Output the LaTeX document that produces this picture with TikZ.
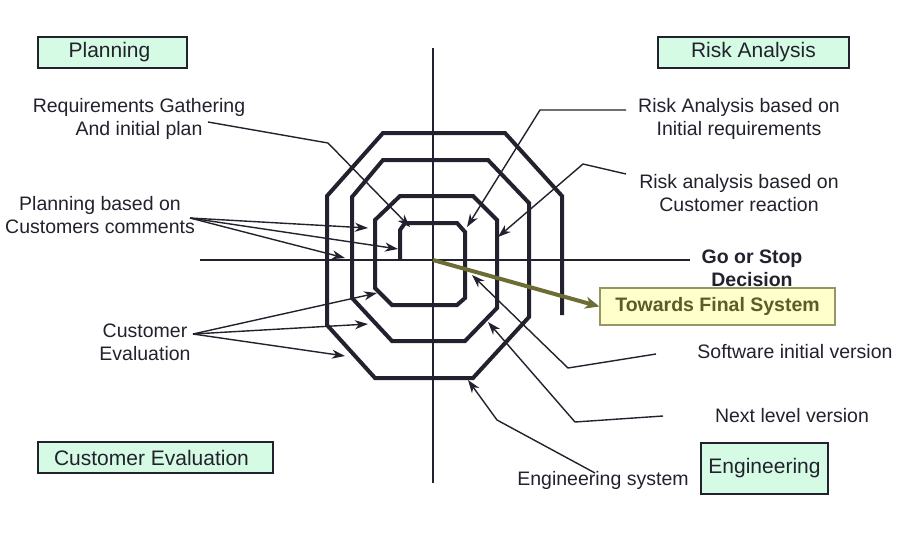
\documentclass[tikz,border=0pt]{standalone}
\usepackage{fontspec}
\setmainfont{Liberation Sans}
\usetikzlibrary{arrows.meta}
\definecolor{ink}{RGB}{34,34,46}
\definecolor{mint}{RGB}{214,251,228}
\definecolor{oliveline}{RGB}{108,108,52}
\definecolor{olivetext}{RGB}{92,92,40}
\definecolor{paleyellow}{RGB}{255,255,204}
\definecolor{yellowedge}{RGB}{150,150,100}
\begin{document}
\begin{tikzpicture}[x=1pt,y=-1pt,
  lbl/.style={font=\fontsize{19.5}{23}\selectfont, text=ink, align=center, inner sep=0pt},
  boldlbl/.style={lbl, font=\fontsize{19.5}{23}\selectfont\bfseries},
  phase/.style={draw=ink, line width=1.4pt, fill=mint, font=\fontsize{21}{25}\selectfont, text=ink, inner sep=0pt},
  ptr/.style={draw=ink, line width=1.4pt, line join=round, -{Stealth[length=13pt,width=9pt,inset=4pt]}},
  spiral/.style={draw=ink, line width=4pt, line join=miter},
  axis/.style={draw=ink, line width=1.3pt}]
\fill[white] (0,0) rectangle (906,542);
\useasboundingbox (0,0) rectangle (906,542);

% axes
\coordinate (vtop) at (433,48);
\coordinate (vbot) at (433,483);
\coordinate (hleft) at (200,260);
\coordinate (hright) at (690,260);
\coordinate (centre) at (433,260);
\draw[axis] (vtop) -- (vbot);
\draw[axis] (hleft) -- (hright);

% spiral
\draw[spiral] (400,260) -- (400,230) -- (405,223) -- (457,223) -- (465,232) -- (465,298)
  -- (457,305) -- (392,305) -- (375,288) -- (375,220) -- (400,196) -- (473,196)
  -- (497,220) -- (497,308) -- (465,341) -- (392,341) -- (352,298) -- (352,197)
  -- (383,160) -- (488,160) -- (529,203) -- (529,317) -- (473,378) -- (375,378)
  -- (327,325) -- (327,196) -- (383,133) -- (505,133) -- (562,196) -- (562,315);

% phase boxes
\node[phase, minimum width=149pt, minimum height=31pt] (planning) at (112.5,52.5) {Planning\hspace*{6pt}};
\node[phase, minimum width=191pt, minimum height=31pt] (risk) at (753.5,52.5) {Risk Analysis};
\node[phase, minimum width=235pt, minimum height=31pt] (custevalbox) at (155.5,457.5) {Customer Evaluation\hspace*{8pt}};
\node[phase, minimum width=127pt, minimum height=51pt] (engineering) at (764.5,468.5) {Engineering};

% labels
\node[lbl] (req) at (139,119) {Requirements Gathering\\And initial plan};
\node[lbl] (riskinit) at (739,119) {Risk Analysis based on\\Initial requirements};
\node[lbl] (riskcust) at (739,193) {Risk analysis based on\\Customer reaction};
\node[lbl] (plancust) at (100,215) {Planning based on\\Customers comments};
\node[lbl] (custeval) at (145,342) {Customer\\Evaluation};
\node[boldlbl] (gostop) at (752,268) {Go or Stop\\Decision};
\node[lbl] (software) at (795,352) {Software initial version};
\node[lbl] (nextlevel) at (792,416) {Next level version};
\node[lbl] (engsys) at (603,480) {Engineering system};
\node[draw=yellowedge, line width=1.4pt, fill=paleyellow, minimum width=235pt, minimum height=37pt,
  inner sep=0pt, font=\fontsize{19.5}{23}\selectfont\bfseries, text=olivetext] (final) at (717.5,306.5) {Towards Final System};

% connector coordinates
\coordinate (reqS) at (208,122);
\coordinate (reqT) at (410,227);
\coordinate (riS) at (626,110);
\coordinate (riT) at (467,227);
\coordinate (rcS) at (626,174);
\coordinate (rcT) at (498,237);
\coordinate (pcS) at (190,218);
\coordinate (pcA) at (368,228);
\coordinate (pcB) at (398,249);
\coordinate (pcC) at (345,258);
\coordinate (ceS) at (193,334);
\coordinate (ceA) at (377,293);
\coordinate (ceB) at (368,324);
\coordinate (ceC) at (345,356);
\coordinate (swS) at (656,354);
\coordinate (swT) at (472,275);
\coordinate (nlS) at (663,416);
\coordinate (nlT) at (488,322);
\coordinate (esS) at (595,473);
\coordinate (esT) at (468,380);

% connectors
\draw[ptr] (reqS) -- (328,143) -- (reqT);
\draw[ptr] (riS) -- (540,110) -- (riT);
\draw[ptr] (rcS) -- (583,164) -- (rcT);
\draw[ptr] (pcS) -- (pcA);
\draw[ptr] (pcS) -- (pcB);
\draw[ptr] (pcS) -- (pcC);
\draw[ptr] (ceS) -- (ceA);
\draw[ptr] (ceS) -- (ceB);
\draw[ptr] (ceS) -- (ceC);
\draw[ptr] (swS) -- (568,368) -- (swT);
\draw[ptr] (nlS) -- (575,422) -- (nlT);
\draw[ptr] (esS) -- (497,420) -- (esT);

% olive arrow
\draw[draw=oliveline, line width=4pt, -{Stealth[length=14pt,width=12pt,inset=4pt]}] (centre) -- (final.west);
\end{tikzpicture}
\end{document}
